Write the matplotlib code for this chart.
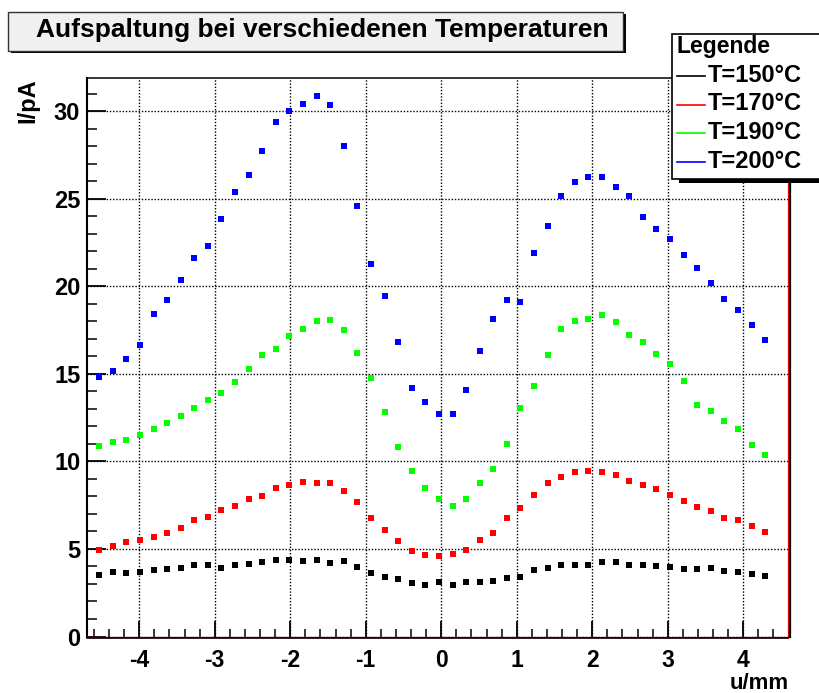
import matplotlib
matplotlib.use("Agg")
import matplotlib.pyplot as plt
from matplotlib.patches import Rectangle
from matplotlib.lines import Line2D
from matplotlib.ticker import MultipleLocator, FixedLocator, FixedFormatter
from matplotlib.transforms import offset_copy

plt.rcParams['font.family'] = ['Liberation Sans', 'DejaVu Sans']
plt.rcParams['font.weight'] = 'bold'
plt.rcParams['lines.scale_dashes'] = False

# ---- data -------------------------------------------------------------
u_mm = [-4.53, -4.35, -4.17, -3.99, -3.81, -3.63, -3.45, -3.27, -3.09, -2.91,
        -2.73, -2.55, -2.37, -2.19, -2.01, -1.83, -1.65, -1.47, -1.29, -1.11,
        -0.93, -0.75, -0.57, -0.39, -0.21, -0.03, 0.15, 0.33, 0.51, 0.69,
        0.87, 1.05, 1.23, 1.41, 1.59, 1.77, 1.95, 2.13, 2.31, 2.49,
        2.67, 2.85, 3.03, 3.21, 3.39, 3.57, 3.75, 3.93, 4.11, 4.29]

i_150 = [3.49, 3.70, 3.64, 3.66, 3.79, 3.85, 3.90, 4.06, 4.06, 3.92,
         4.10, 4.13, 4.25, 4.36, 4.36, 4.32, 4.38, 4.19, 4.29, 3.98,
         3.60, 3.39, 3.31, 3.07, 2.97, 3.09, 2.97, 3.10, 3.12, 3.16,
         3.35, 3.41, 3.77, 3.94, 4.06, 4.11, 4.10, 4.25, 4.25, 4.11,
         4.11, 4.00, 3.96, 3.87, 3.85, 3.90, 3.73, 3.70, 3.58, 3.47]

i_170 = [4.93, 5.16, 5.37, 5.52, 5.70, 5.90, 6.19, 6.63, 6.84, 7.20,
         7.45, 7.83, 8.00, 8.50, 8.63, 8.82, 8.78, 8.76, 8.30, 7.70,
         6.78, 6.10, 5.47, 4.90, 4.65, 4.57, 4.69, 4.93, 5.50, 5.94,
         6.74, 7.35, 8.07, 8.78, 9.09, 9.41, 9.47, 9.41, 9.22, 8.86,
         8.63, 8.44, 8.11, 7.73, 7.41, 7.18, 6.74, 6.63, 6.30, 5.98]

i_190 = [10.90, 11.12, 11.24, 11.53, 11.83, 12.21, 12.61, 13.05, 13.52, 13.92,
         14.51, 15.28, 16.10, 16.42, 17.18, 17.58, 18.04, 18.06, 17.52, 16.19,
         14.74, 12.82, 10.84, 9.47, 8.48, 7.87, 7.47, 7.85, 8.78, 9.58,
         10.97, 13.05, 14.29, 16.10, 17.54, 18.00, 18.15, 18.36, 17.94, 17.22,
         16.80, 16.11, 15.54, 14.59, 13.24, 12.90, 12.33, 11.83, 10.95, 10.34]

i_200 = [14.84, 15.16, 15.85, 16.63, 18.40, 19.22, 20.36, 21.60, 22.32, 23.87,
         25.37, 26.34, 27.75, 29.41, 30.02, 30.42, 30.90, 30.38, 28.00, 24.61,
         21.27, 19.45, 16.80, 14.21, 13.39, 12.69, 12.70, 14.10, 16.30, 18.13,
         19.24, 19.10, 21.92, 23.45, 25.14, 25.98, 26.23, 26.25, 25.66, 25.14,
         23.98, 23.30, 22.69, 21.79, 21.03, 20.21, 19.26, 18.67, 17.77, 16.91]

series_labels = ["T=150\u00b0C", "T=170\u00b0C", "T=190\u00b0C", "T=200\u00b0C"]
series_colors = ["#000000", "#ff0000", "#00ff00", "#0000ff"]

x_ticks = [-4, -3, -2, -1, 0, 1, 2, 3, 4]
x_tick_labels = ["-4", "-3", "-2", "-1", "0", "1", "2", "3", "4"]
y_ticks = [0, 5, 10, 15, 20, 25, 30]
y_tick_labels = ["0", "5", "10", "15", "20", "25", "30"]

title_text = "Aufspaltung bei verschiedenen Temperaturen"
legend_title = "Legende"
x_label = "u/mm"
y_label = "I/pA"

# ---- figure -----------------------------------------------------------
W, H = 819, 693
fig = plt.figure(figsize=(W / 100, H / 100), dpi=100)
fig.patch.set_facecolor("white")


def fx(px):
    return px / W


def fy(py):
    return 1 - py / H


ax_l, ax_r, ax_t, ax_b = 86.5, 788.0, 78.0, 636.5
ax = fig.add_axes([fx(ax_l), fy(ax_b), fx(ax_r) - fx(ax_l), fy(ax_t) - fy(ax_b)])
ax.set_xlim(-4.698, 4.593)
ax.set_ylim(0, 31.9)

for ys, col in zip([i_150, i_170, i_190, i_200], series_colors):
    ax.plot(u_mm, ys, linestyle="none", marker="s", markersize=3.7,
            markeredgewidth=0, color=col, zorder=3)

# grid
ax.grid(True, which="major", color="black", linewidth=1.0,
        linestyle=(0, (1.0, 1.3)))
ax.set_axisbelow(True)

# ticks
ax.xaxis.set_major_locator(FixedLocator(x_ticks))
ax.xaxis.set_major_formatter(FixedFormatter(x_tick_labels))
ax.xaxis.set_minor_locator(MultipleLocator(0.2))
ax.yaxis.set_major_locator(FixedLocator(y_ticks))
ax.yaxis.set_major_formatter(FixedFormatter(y_tick_labels))
ax.yaxis.set_minor_locator(MultipleLocator(1))

ax.tick_params(axis="x", which="major", direction="in", length=11.5, width=1.3,
               labelsize=16.5, pad=9, top=False, bottom=True)
ax.tick_params(axis="x", which="minor", direction="in", length=5.6, width=1.1,
               top=False, bottom=True)
ax.tick_params(axis="y", which="major", direction="in", length=13.7, width=1.3,
               labelsize=17, pad=4.5, left=True, right=False)
ax.tick_params(axis="y", which="minor", direction="in", length=7.2, width=1.1,
               left=True, right=False)
for lab in ax.get_xticklabels() + ax.get_yticklabels():
    lab.set_fontweight("bold")

# frame
ax.spines["left"].set_linewidth(1.5)
ax.spines["left"].set_color("black")
ax.spines["top"].set_linewidth(1.1)
ax.spines["top"].set_color("black")
ax.spines["right"].set_linewidth(0.9)
ax.spines["right"].set_color("#ff0000")
ax.spines["bottom"].set_linewidth(0.9)
ax.spines["bottom"].set_color("#ff0000")

tr_right = offset_copy(ax.transAxes, fig=fig, x=1.8, y=0, units="dots")
tr_bottom = offset_copy(ax.transAxes, fig=fig, x=0, y=-1.5, units="dots")
ax.add_line(Line2D([1, 1], [0, 1], transform=tr_right, color="black",
                   linewidth=1.6, clip_on=False, zorder=5))
ax.add_line(Line2D([0, 1], [0, 0], transform=tr_bottom, color="black",
                   linewidth=1.2, clip_on=False, zorder=5))

# axis titles
fig.text(fx(28), fy(78), y_label, rotation=90, ha="center", va="top",
         fontsize=17, fontweight="bold")
fig.text(fx(788.5), fy(689), x_label, ha="right", va="baseline",
         fontsize=16, fontweight="bold")

# title box with drop shadow
tb_l, tb_t, tb_r, tb_b = 8, 12, 622.5, 50.5
fig.patches.append(Rectangle((fx(tb_l + 3), fy(tb_b + 2.5)),
                             fx(tb_r - tb_l), fy(tb_t) - fy(tb_b),
                             transform=fig.transFigure, facecolor="black",
                             edgecolor="none", zorder=1))
fig.patches.append(Rectangle((fx(tb_l), fy(tb_b)),
                             fx(tb_r - tb_l), fy(tb_t) - fy(tb_b),
                             transform=fig.transFigure, facecolor="#f0f0f0",
                             edgecolor="#333333", linewidth=1.0, zorder=2))
fig.text(fx(322.5), fy(37), title_text, ha="center",
         va="baseline", fontsize=19, fontweight="bold", zorder=3)

# legend box with drop shadow
lg_l, lg_t, lg_r, lg_b = 672, 33.5, 830, 178.5
fig.patches.append(Rectangle((fx(lg_l + 7), fy(lg_b + 4.5)),
                             fx(lg_r - lg_l), fy(lg_t) - fy(lg_b),
                             transform=fig.transFigure, facecolor="black",
                             edgecolor="none", zorder=6))
fig.patches.append(Rectangle((fx(lg_l), fy(lg_b)),
                             fx(lg_r - lg_l), fy(lg_t) - fy(lg_b),
                             transform=fig.transFigure, facecolor="white",
                             edgecolor="black", linewidth=1.2, zorder=7))
fig.text(fx(676), fy(53.3), legend_title, ha="left", va="baseline",
         fontsize=16.5, fontweight="bold", zorder=8)
entry_base = [81.7, 110.5, 139.3, 168.1]
for lab, col, yb in zip(series_labels, series_colors, entry_base):
    fig.lines.append(Line2D([fx(677), fx(705)], [fy(yb - 6), fy(yb - 6)],
                            transform=fig.transFigure, color=col,
                            linewidth=1.2, zorder=8))
    fig.text(fx(708), fy(yb), lab, ha="left", va="baseline",
             fontsize=17, fontweight="bold", zorder=8)

fig.savefig("out.png", dpi=100, facecolor="white")
